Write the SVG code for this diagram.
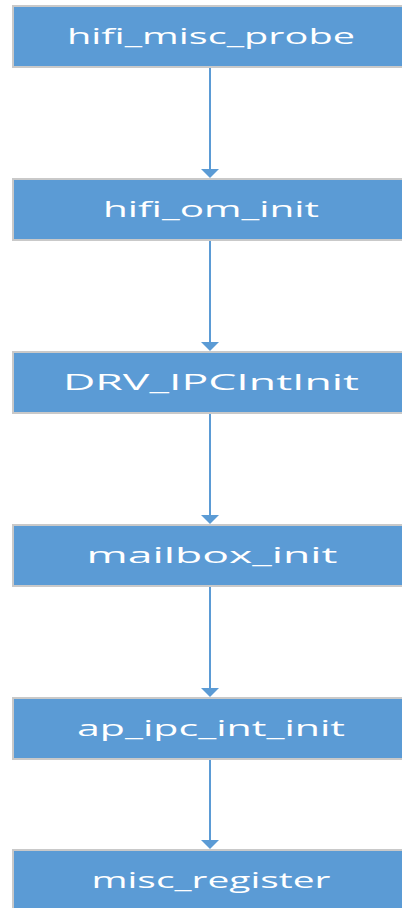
<svg xmlns="http://www.w3.org/2000/svg" width="402" height="908" viewBox="0 0 402 908">
<defs>
<style>
.box{fill:#5b9bd5;stroke:#c9c9c9;stroke-width:2}
.lbl{font-family:"Open Sans","Liberation Sans",sans-serif;font-size:22px;fill:#ffffff;text-anchor:middle}
.conn{stroke:#5b9bd5;stroke-width:2;fill:none}
.head{fill:#5b9bd5}
</style>
</defs>
<rect width="402" height="908" fill="#ffffff"/>
<g id="connectors">
<line class="conn" x1="210" y1="68" x2="210" y2="170"/>
<polygon class="head" points="201,169 219,169 210,178"/>
<line class="conn" x1="210" y1="241" x2="210" y2="343"/>
<polygon class="head" points="201,342 219,342 210,351"/>
<line class="conn" x1="210" y1="414" x2="210" y2="516"/>
<polygon class="head" points="201,515 219,515 210,524"/>
<line class="conn" x1="210" y1="587" x2="210" y2="689"/>
<polygon class="head" points="201,688 219,688 210,697"/>
<line class="conn" x1="210" y1="760" x2="210" y2="841"/>
<polygon class="head" points="201,840 219,840 210,849"/>
</g>
<g id="n1"><rect class="box" x="13" y="6" width="400" height="61"/><text class="lbl" x="211" y="44" textLength="288" lengthAdjust="spacingAndGlyphs">hifi_misc_probe</text></g>
<g id="n2"><rect class="box" x="13" y="179" width="400" height="61"/><text class="lbl" x="211" y="217" textLength="216" lengthAdjust="spacingAndGlyphs">hifi_om_init</text></g>
<g id="n3"><rect class="box" x="13" y="352" width="400" height="61"/><text class="lbl" x="211" y="390" textLength="296" lengthAdjust="spacingAndGlyphs">DRV_IPCIntInit</text></g>
<g id="n4"><rect class="box" x="13" y="525" width="400" height="61"/><text class="lbl" x="212" y="563" textLength="251" lengthAdjust="spacingAndGlyphs">mailbox_init</text></g>
<g id="n5"><rect class="box" x="13" y="698" width="400" height="61"/><text class="lbl" x="211" y="736" textLength="268" lengthAdjust="spacingAndGlyphs">ap_ipc_int_init</text></g>
<g id="n6"><rect class="box" x="13" y="850" width="400" height="70"/><text class="lbl" x="211" y="888" textLength="239" lengthAdjust="spacingAndGlyphs">misc_register</text></g>
</svg>
